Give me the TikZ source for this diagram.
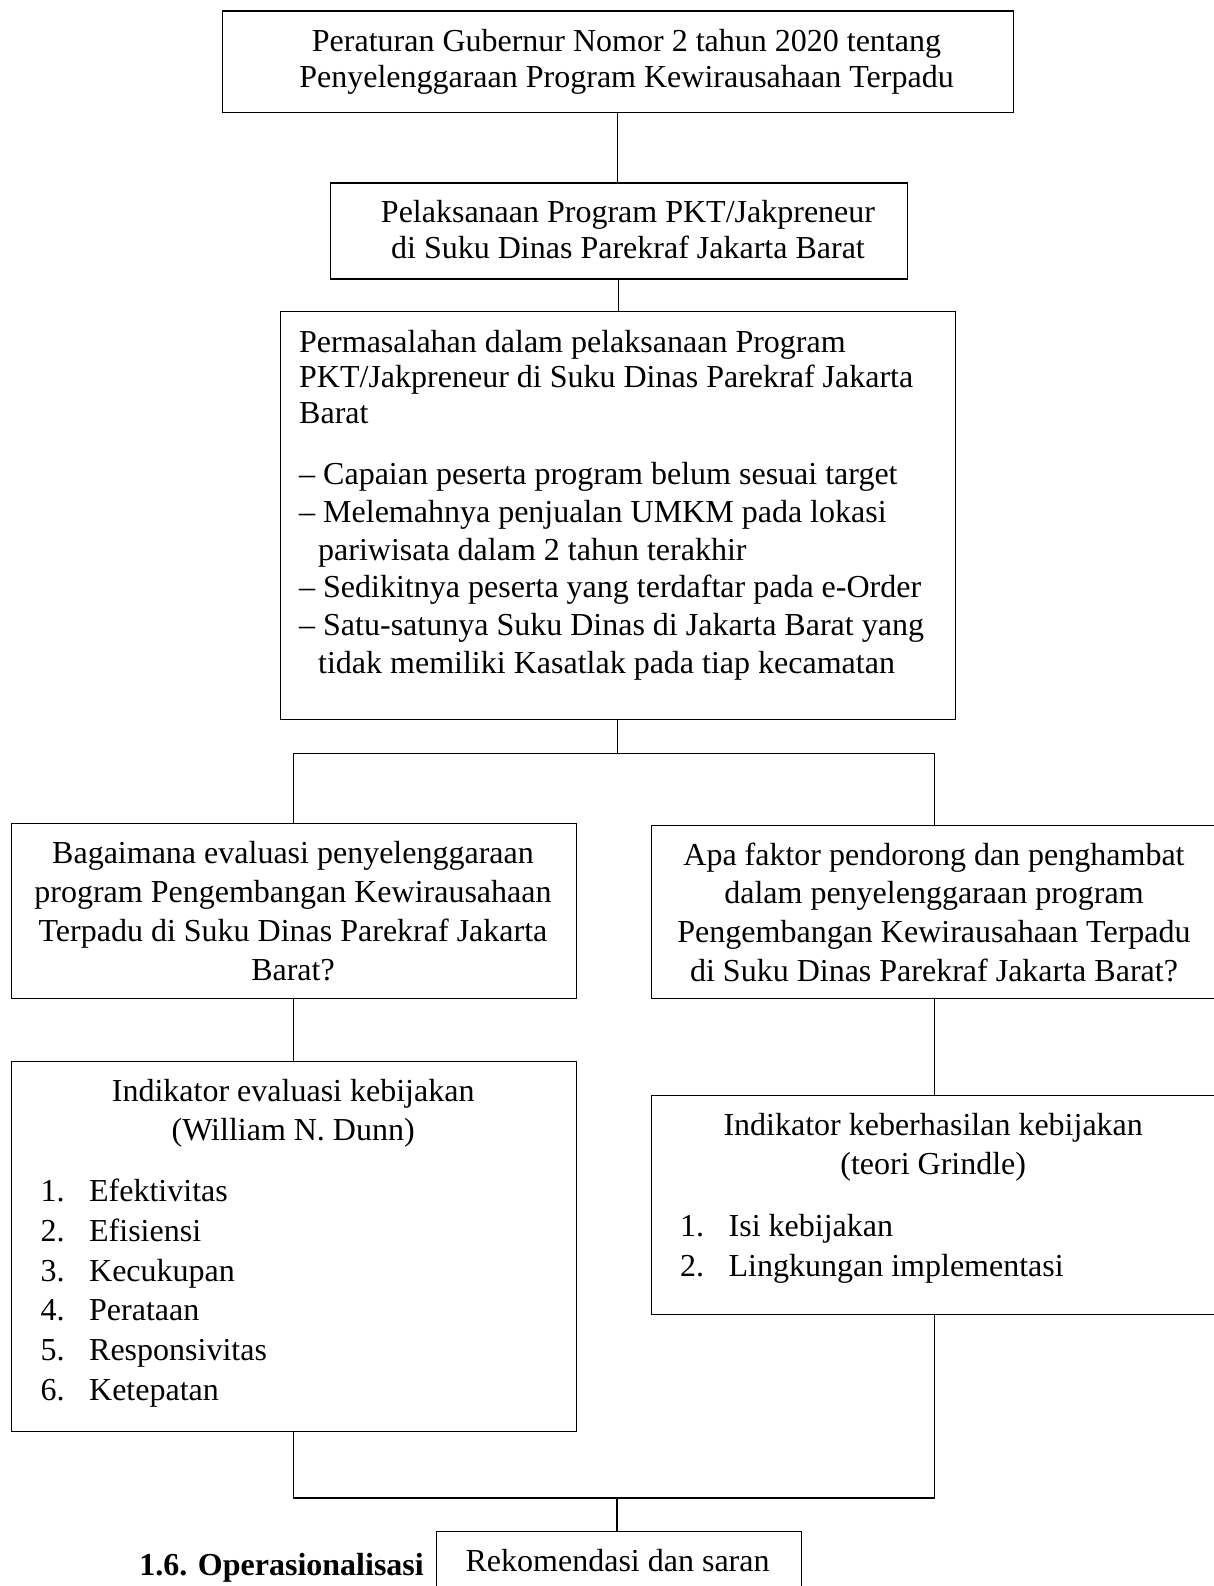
\documentclass[tikz,border=0pt]{standalone}
\usepackage{fontspec}
\setmainfont{Liberation Serif}
\tikzset{
  box/.style={draw, line width=1.2pt, inner sep=0pt, anchor=north west},
  link/.style={line width=1.1pt},
  txt/.style={anchor=base, inner sep=0pt},
  txtl/.style={anchor=base west, inner sep=0pt},
  txtr/.style={anchor=base east, inner sep=0pt},
}
\newcommand\blockc[3]{\begin{minipage}[t]{#1}\fontsize{32}{#2}\selectfont\centering #3\par\end{minipage}}
\newcommand\numit[1]{\makebox[48.5pt][l]{#1}}
\begin{document}
\begin{tikzpicture}[x=1pt,y=-1pt]
\useasboundingbox (0,0) rectangle (1214,1586);
\clip (0,0) rectangle (1214,1586);
\fill[white] (0,0) rectangle (1214,1586);

% boxes
\node[box, minimum width=791.5pt, minimum height=101.5pt] (b1) at (221.5,10.5) {};
\node[box, minimum width=577.5pt, minimum height=96pt] (b2) at (329.5,182.5) {};
\node[box, minimum width=675.5pt, minimum height=408pt] (b3) at (279.5,311) {};
\node[box, minimum width=564.5pt, minimum height=175pt] (b4) at (11,823) {};
\node[box, minimum width=566pt, minimum height=173pt] (b5) at (651,824.5) {};
\node[box, minimum width=564.5pt, minimum height=370pt] (b6) at (11,1061) {};
\node[box, minimum width=566pt, minimum height=219pt] (b7) at (651,1094.5) {};
\node[box, minimum width=365pt, minimum height=80pt] (b8) at (436,1530.5) {};

% connectors
\coordinate (jt) at (617,753.5);
\coordinate (jb) at (617,1498);
\draw[link] (b1.south) -- (b1.south |- b2.north);
\draw[link] (b2.south) -- (b2.south |- b3.north);
\draw[link] (b3.south) -- (b3.south |- jt);
\draw[link] (b4.north) -- (b4.north |- jt) -- (b5.north |- jt) -- (b5.north);
\draw[link] (b4.south) -- (b6.north);
\draw[link] (b5.south) -- (b7.north);
\draw[link] (b6.south) -- (b6.south |- jb) -- (b7.south |- jb) -- (b7.south);
\draw[link] (jb) -- (jb |- b8.north);

% texts
\node[txt] (t1) at (626.5,52) {\blockc{800pt}{35.6pt}{Peraturan Gubernur Nomor 2 tahun 2020 tentang\\Penyelenggaraan Program Kewirausahaan Terpadu}};
\node[txt] (t2) at (628,223) {\blockc{600pt}{35.6pt}{Pelaksanaan Program PKT/Jakpreneur\\di Suku Dinas Parekraf Jakarta Barat}};
\node[txtl] (t3) at (299,352) {\begin{minipage}[t]{650pt}\raggedright
\fontsize{32}{35.8}\selectfont
Permasalahan dalam pelaksanaan Program\\
PKT/Jakpreneur di Suku Dinas Parekraf Jakarta\\
Barat\par
\vspace{23pt}
\fontsize{32}{37.8}\selectfont
– Capaian peserta program belum sesuai target\\
– Melemahnya penjualan UMKM pada lokasi\\
\hspace*{19pt}pariwisata dalam 2 tahun terakhir\\
– Sedikitnya peserta yang terdaftar pada e-Order\\
– Satu-satunya Suku Dinas di Jakarta Barat yang\\
\hspace*{19pt}tidak memiliki Kasatlak pada tiap kecamatan\par
\end{minipage}};
\node[txt] (t4) at (293,863.5) {\blockc{560pt}{38.9pt}{Bagaimana evaluasi penyelenggaraan\\program Pengembangan Kewirausahaan\\Terpadu di Suku Dinas Parekraf Jakarta\\Barat?}};
\node[txt] (t5) at (934,865) {\blockc{560pt}{38.9pt}{Apa faktor pendorong dan penghambat\\dalam penyelenggaraan program\\Pengembangan Kewirausahaan Terpadu\\di Suku Dinas Parekraf Jakarta Barat?}};
\node[txtl] (t6) at (40.5,1101.7) {\begin{minipage}[t]{505pt}
\fontsize{32}{38.3}\selectfont
{\centering Indikator evaluasi kebijakan\\(William N. Dunn)\par}
\vspace{22pt}
\fontsize{32}{39.7}\selectfont
{\raggedright
\numit{1.}Efektivitas\\
\numit{2.}Efisiensi\\
\numit{3.}Kecukupan\\
\numit{4.}Perataan\\
\numit{5.}Responsivitas\\
\numit{6.}Ketepatan\par}
\end{minipage}};
\node[txtl] (t7) at (680,1135.5) {\begin{minipage}[t]{506pt}
\fontsize{32}{39}\selectfont
{\centering Indikator keberhasilan kebijakan\\(teori Grindle)\par}
\vspace{22pt}
\fontsize{32}{40}\selectfont
{\raggedright
\numit{1.}Isi kebijakan\\
\numit{2.}Lingkungan implementasi\par}
\end{minipage}};
\node[txt] (t8) at (617.6,1571.5) {\fontsize{32}{38}\selectfont Rekomendasi dan saran};
\node[txtr] (t9) at (424,1575) {\fontsize{32}{38}\selectfont\bfseries 1.6. Operasionalisasi};
\end{tikzpicture}
\end{document}
